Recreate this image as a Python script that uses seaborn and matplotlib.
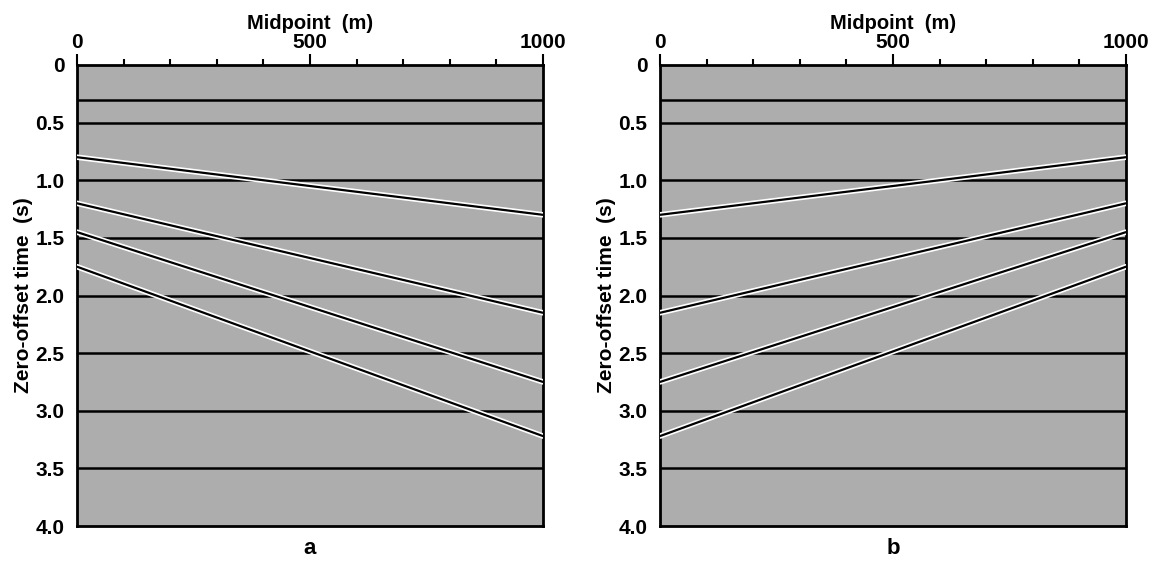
import numpy as np
import pandas as pd
import matplotlib
matplotlib.use("Agg")
import matplotlib.pyplot as plt
import matplotlib.patheffects as pe
from matplotlib.ticker import MultipleLocator
import seaborn as sns

sns.set_style("white")
plt.rcParams['font.family'] = ['Liberation Sans', 'DejaVu Sans']
plt.rcParams['font.weight'] = 'bold'
plt.rcParams['text.color'] = 'black'
plt.rcParams['xtick.color'] = 'black'
plt.rcParams['ytick.color'] = 'black'
plt.rcParams['axes.labelcolor'] = 'black'

# Flat reflectors (s)
flat_times = [0.3, 0.5, 1.0, 1.5, 2.0, 2.5, 3.0, 3.5]
# Dipping reflectors: time at midpoint 0 and at 1000 m (panel a)
dip_start_a = [0.8, 1.2, 1.45, 1.75]
dip_end_a = [1.3, 2.15, 2.75, 3.22]
# Panel b: mirrored dips
dip_start_b = [1.3, 2.15, 2.75, 3.22]
dip_end_b = [0.8, 1.2, 1.45, 1.75]
midpoints = [0, 1000]
panel_labels = ["a", "b"]

fig = plt.figure(figsize=(11.56, 5.62), dpi=100)
axes = [fig.add_axes([77/1156, 1-526/562, 466/1156, 461/562]),
        fig.add_axes([660/1156, 1-526/562, 466/1156, 461/562])]

def build_df(starts, ends):
    rows = []
    for i, t in enumerate(flat_times):
        for x in midpoints:
            rows.append(dict(line=f"f{i}", kind="flat", x=x, t=t))
    for i, (a, b) in enumerate(zip(starts, ends)):
        rows.append(dict(line=f"d{i}", kind="dip", x=midpoints[0], t=a))
        rows.append(dict(line=f"d{i}", kind="dip", x=midpoints[1], t=b))
    return pd.DataFrame(rows)

for ax, (s, e), lab in zip(axes, [(dip_start_a, dip_end_a), (dip_start_b, dip_end_b)], panel_labels):
    df = build_df(s, e)
    ax.set_facecolor("#adadad")
    flat = df[df.kind == "flat"]
    dip = df[df.kind == "dip"]
    sns.lineplot(data=flat, x="x", y="t", units="line", estimator=None, color="black",
                 lw=1.8, ax=ax, legend=False)
    n_flat = len(ax.lines)
    sns.lineplot(data=dip, x="x", y="t", units="line", estimator=None, color="black",
                 lw=1.6, ax=ax, legend=False)
    for ln in ax.lines[n_flat:]:
        ln.set_path_effects([pe.Stroke(linewidth=4.0, foreground="white"), pe.Normal()])
        ln.set_zorder(3)
    ax.set_xlim(0, 1000)
    ax.set_ylim(4.0, 0)
    ax.xaxis.set_label_position("top")
    ax.xaxis.tick_top()
    ax.set_xticks([0, 500, 1000])
    ax.xaxis.set_minor_locator(MultipleLocator(100))
    ax.set_yticks([0, 0.5, 1.0, 1.5, 2.0, 2.5, 3.0, 3.5, 4.0])
    ax.set_yticklabels(["0", "0.5", "1.0", "1.5", "2.0", "2.5", "3.0", "3.5", "4.0"])
    ax.yaxis.set_minor_locator(MultipleLocator(0.1))
    ax.tick_params(axis="both", which="major", length=8, width=1.5, labelsize=15, direction="out",
                   pad=1)
    ax.tick_params(axis="both", which="minor", length=4, width=1.5, direction="out")
    ax.tick_params(axis="y", which="both", right=False)
    for sp in ax.spines.values():
        sp.set_linewidth(2.0)
        sp.set_color("black")
    ax.set_xlabel("Midpoint  (m)", fontsize=14.5, fontweight="bold", labelpad=3)
    ax.set_ylabel("Zero-offset time  (s)", fontsize=15, fontweight="bold", labelpad=2)
    ax.text(0.5, -0.025, lab, transform=ax.transAxes, ha="center", va="top",
            fontsize=16, fontweight="bold")

fig.savefig("out.png", dpi=100)
